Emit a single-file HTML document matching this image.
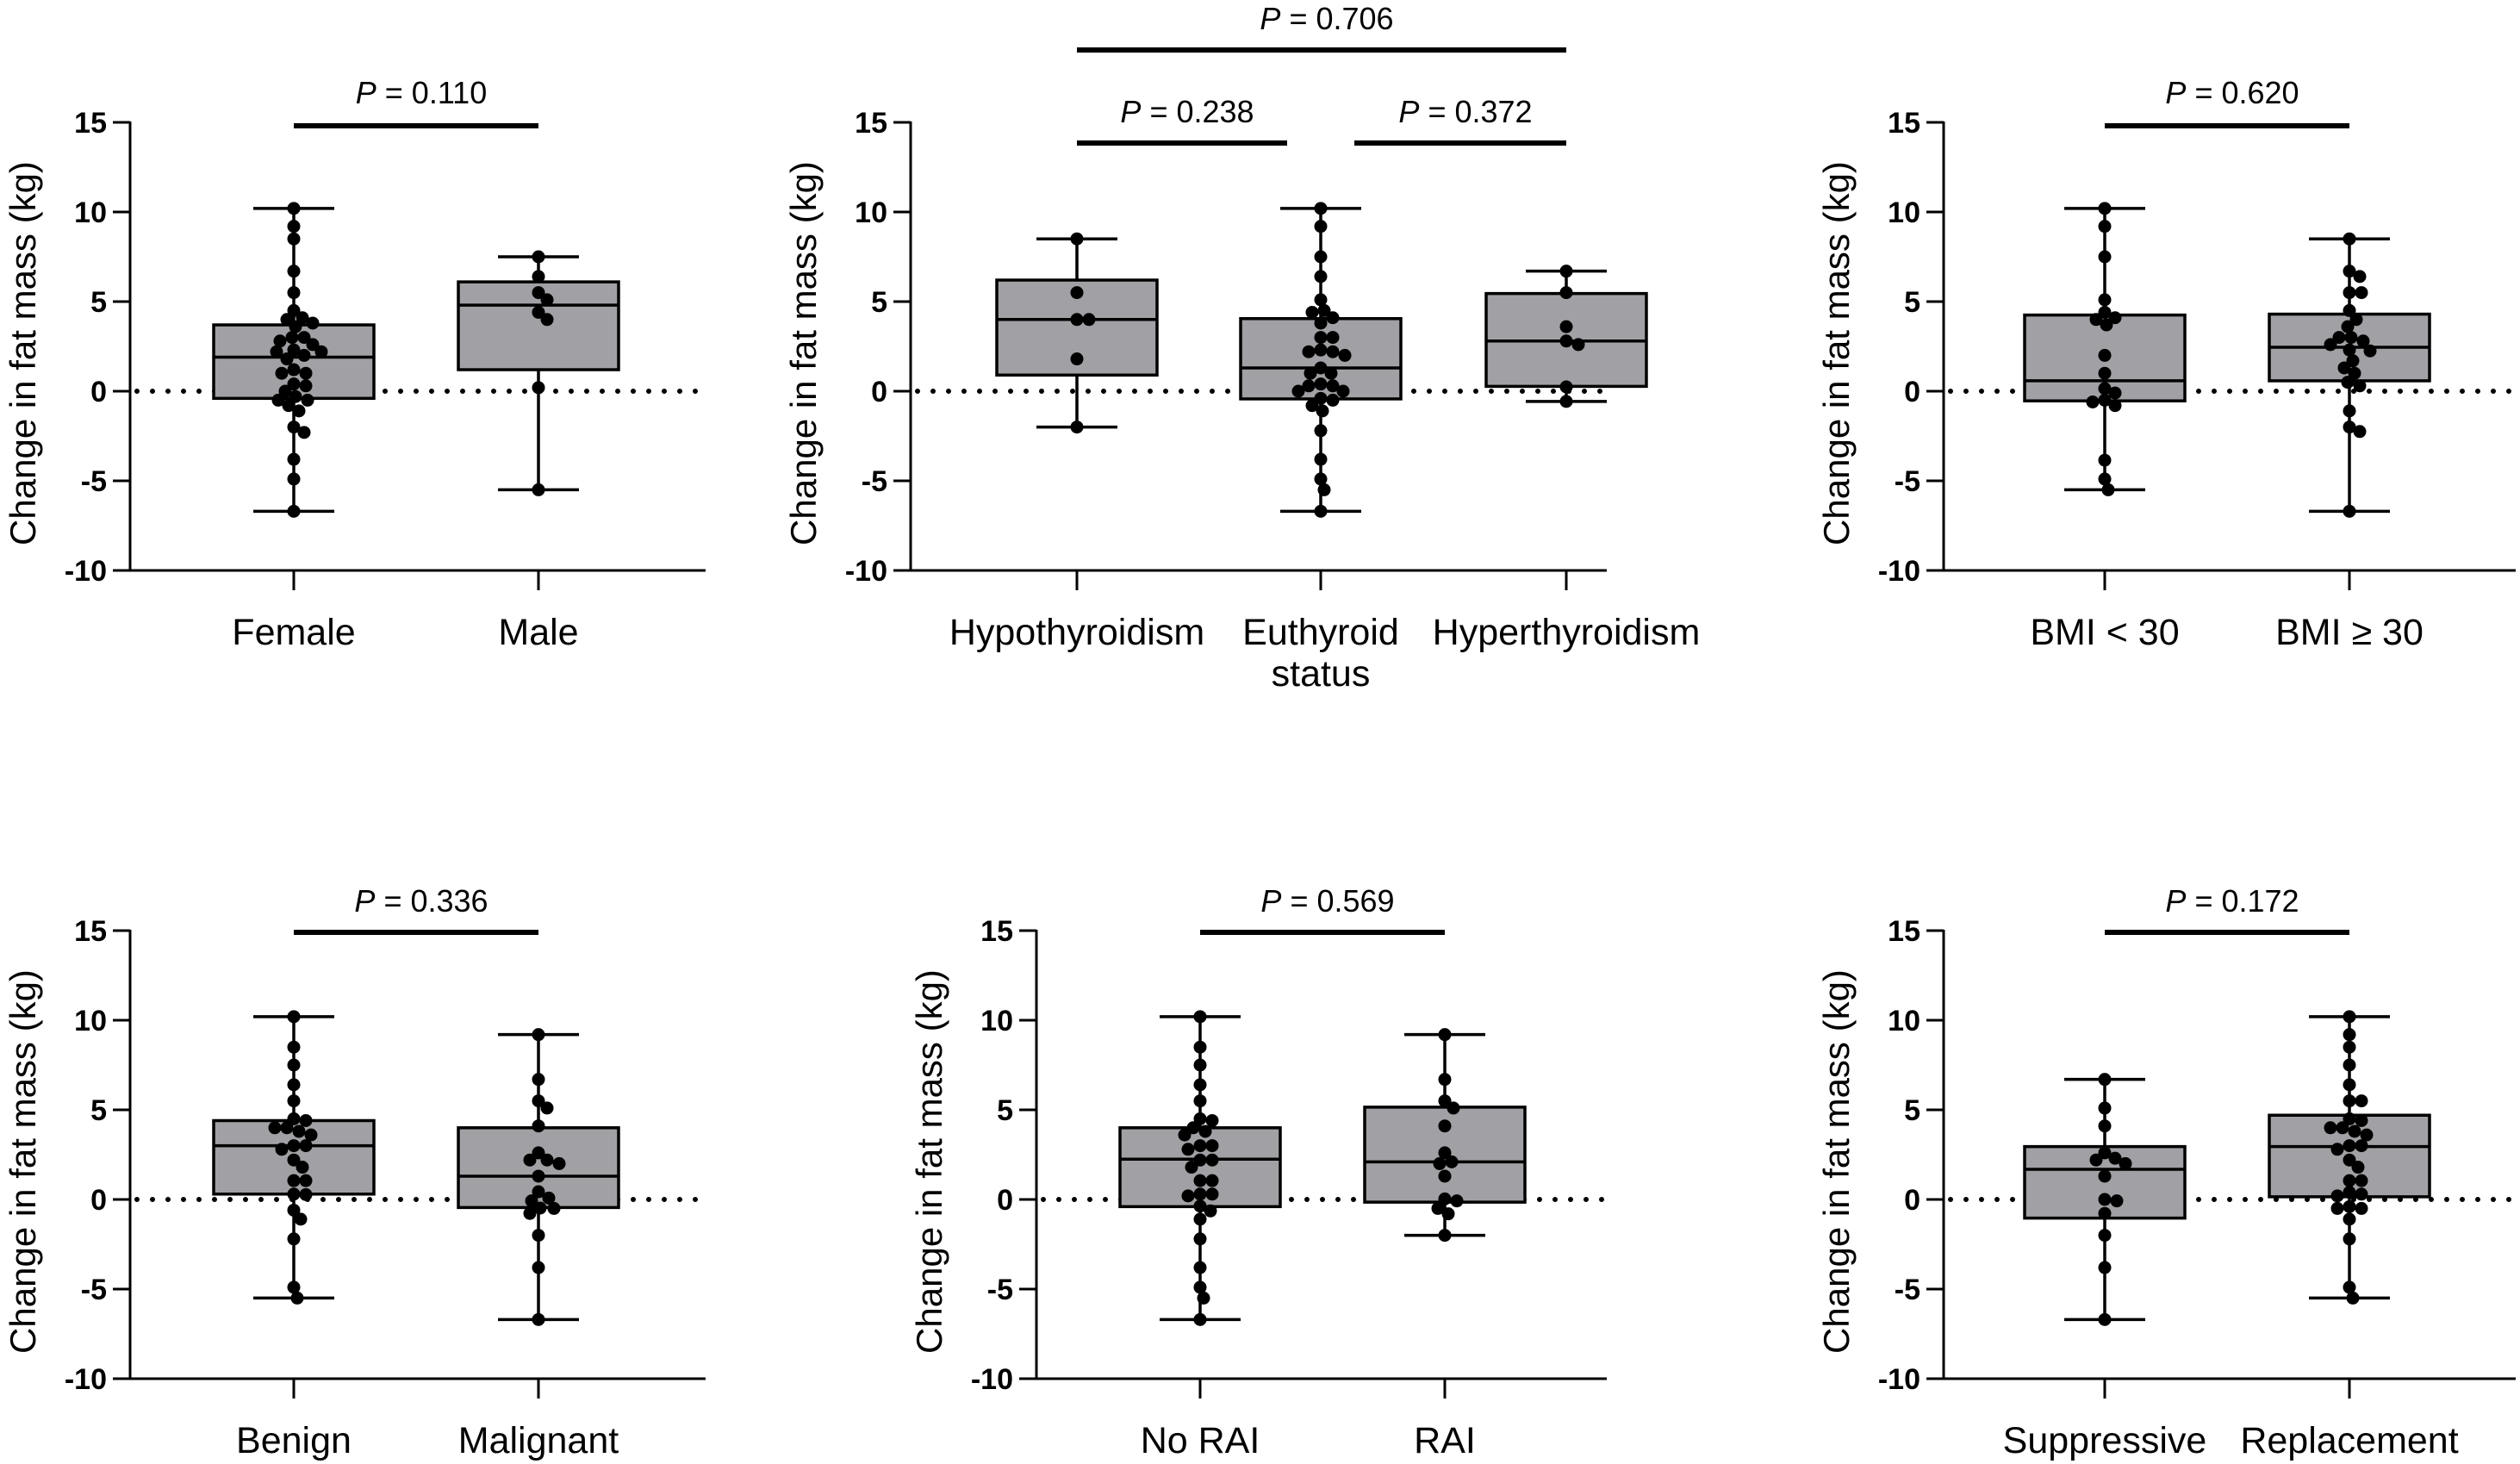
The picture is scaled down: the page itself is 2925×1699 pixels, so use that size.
<!DOCTYPE html>
<html><head><meta charset="utf-8"><style>
html,body{margin:0;padding:0;background:#fff;}
svg{display:block;font-family:"Liberation Sans",Arial,sans-serif;}
</style></head><body>
<svg id="fig" width="2925" height="1699" viewBox="0 0 2925 1699" xmlns="http://www.w3.org/2000/svg"></svg>
<script>
// ---- data (kg change in fat mass) ----
const femaleDots=[10.2,9.2,8.5,6.7,5.5,4.5,4.1,4.0,3.8,3.6,3.0,3.0,2.8,2.6,2.3,2.2,2.2,2.0,1.8,1.2,1.0,1.0,0.4,0.3,0.0,-0.3,-0.5,-0.5,-0.8,-1.1,-2.0,-2.3,-3.8,-4.9,-6.7];
const maleDots=[7.5,6.4,5.5,5.1,4.4,4.0,0.2,-5.5];
const hypoDots=[8.5,5.5,4.0,4.0,1.8,-2.0];
const euDots=[10.2,9.2,7.5,6.4,5.1,4.5,4.4,4.1,3.8,3.0,3.0,2.3,2.2,2.2,2.0,1.3,1.0,1.0,0.4,0.3,0.3,0.0,0.0,-0.4,-0.5,-0.8,-1.1,-2.2,-3.8,-4.9,-5.5,-6.7];
const hyperDots=[6.7,5.5,3.6,2.8,2.6,0.24,-0.57];
const bmiLowDots=[10.2,9.2,7.5,5.1,4.4,4.1,4.0,3.7,2.0,1.0,0.15,-0.1,-0.5,-0.6,-0.8,-3.85,-4.9,-5.5];
const bmiHighDots=[8.5,6.7,6.4,5.5,5.5,4.5,4.0,3.6,3.0,3.0,2.8,2.6,2.3,2.25,1.7,1.3,1.0,0.5,0.3,-1.1,-2.0,-2.25,-6.7];
const benignDots=[10.2,8.5,7.5,6.4,5.5,4.5,4.4,4.0,4.0,3.8,3.6,3.0,3.0,2.8,2.2,1.8,1.05,1.05,0.3,0.27,-0.6,-1.1,-2.2,-4.9,-5.5];
const malignantDots=[9.2,6.7,5.5,5.1,4.1,2.6,2.2,2.2,2.0,1.3,0.43,0.08,-0.08,-0.48,-0.5,-0.78,-2.0,-3.8,-6.7];
const noRaiDots=[10.2,8.5,7.5,6.4,5.5,4.5,4.4,4.0,3.8,3.6,3.0,3.0,2.8,2.2,2.2,1.8,1.05,1.05,0.3,0.3,0.2,-0.37,-0.64,-1.1,-2.2,-3.8,-4.9,-5.5,-6.7];
const raiDots=[9.2,6.7,5.5,5.1,4.1,2.6,2.1,2.0,1.3,0.03,-0.08,-0.5,-0.8,-2.0];
const suppDots=[6.7,5.1,4.1,2.6,2.3,2.2,2.0,1.3,0.0,-0.08,-0.78,-2.0,-3.8,-6.7];
const replDots=[10.2,9.2,8.5,7.5,6.4,5.5,5.5,4.5,4.4,4.0,4.0,3.8,3.6,3.0,3.0,2.8,2.2,1.8,1.05,1.05,0.4,0.3,0.2,-0.5,-0.5,-0.4,-1.1,-2.2,-4.9,-5.5];
// box stats: [min, q1, median, q3, max]
const femaleBox=[-6.7,-0.4,1.9,3.7,10.2];
const maleBox=[-5.5,1.2,4.8,6.1,7.5];
const hypoBox=[-2.0,0.9,4.0,6.2,8.5];
const euBox=[-6.7,-0.43,1.3,4.05,10.2];
const hyperBox=[-0.57,0.27,2.8,5.45,6.7];
const bmiLowBox=[-5.5,-0.54,0.58,4.25,10.2];
const bmiHighBox=[-6.7,0.58,2.45,4.3,8.5];
const benignBox=[-5.5,0.3,3.0,4.4,10.2];
const malignantBox=[-6.7,-0.45,1.3,4.0,9.2];
const noRaiBox=[-6.7,-0.4,2.25,4.0,10.2];
const raiBox=[-2.0,-0.15,2.1,5.15,9.2];
const suppBox=[-6.7,-1.04,1.68,2.95,6.7];
const replBox=[-5.5,0.15,2.95,4.7,10.2];
const yTicks=[15,10,5,0,-5,-10];

const NS="http://www.w3.org/2000/svg";
const svg=document.getElementById('fig');
function el(tag,attrs,parent,text){const e=document.createElementNS(NS,tag);for(const k in attrs)e.setAttribute(k,attrs[k]);if(text!==undefined)e.textContent=text;(parent||svg).appendChild(e);return e;}

const panels=[
 {name:'sex',ax:151,xEnd:819,top:142,bot:662,cats:[341,625],labels:[['Female'],['Male']],data:[femaleDots,maleDots],box:[femaleBox,maleBox],
  p:[{a:0,b:1,y:146,ty:120,t:'0.110'}]},
 {name:'thyroid',ax:1057,xEnd:1865,top:142,bot:662,cats:[1250,1533,1818],labels:[['Hypothyroidism'],['Euthyroid','status'],['Hyperthyroidism']],data:[hypoDots,euDots,hyperDots],box:[hypoBox,euBox,hyperBox],
  p:[{x1:1250,x2:1494,y:166,ty:142,t:'0.238'},{x1:1572,x2:1818,y:166,ty:142,t:'0.372'},{x1:1250,x2:1818,y:58,ty:34,t:'0.706'}]},
 {name:'bmi',ax:2256,xEnd:2920,top:142,bot:662,cats:[2443,2727],labels:[['BMI < 30'],['BMI ≥ 30']],data:[bmiLowDots,bmiHighDots],box:[bmiLowBox,bmiHighBox],
  p:[{a:0,b:1,y:146,ty:120,t:'0.620'}]},
 {name:'histology',ax:151,xEnd:819,top:1080,bot:1600,cats:[341,625],labels:[['Benign'],['Malignant']],data:[benignDots,malignantDots],box:[benignBox,malignantBox],
  p:[{a:0,b:1,y:1082,ty:1058,t:'0.336'}]},
 {name:'rai',ax:1203,xEnd:1865,top:1080,bot:1600,cats:[1393,1677],labels:[['No RAI'],['RAI']],data:[noRaiDots,raiDots],box:[noRaiBox,raiBox],
  p:[{a:0,b:1,y:1082,ty:1058,t:'0.569'}]},
 {name:'therapy',ax:2256,xEnd:2920,top:1080,bot:1600,cats:[2443,2727],labels:[['Suppressive'],['Replacement']],data:[suppDots,replDots],box:[suppBox,replBox],
  p:[{a:0,b:1,y:1082,ty:1058,t:'0.172'}]}
];

panels.forEach(P=>{
  const g=el('g',{});
  
  
  const y=v=>P.top+(15-v)*(P.bot-P.top)/25;
  const zl=el('line',{x1:P.ax+8,x2:P.xEnd,y1:y(0),y2:y(0),stroke:'#000','stroke-width':6,'stroke-dasharray':'0 18','stroke-linecap':'round'},g);
  
  
  P.cats.forEach((cx,i)=>{
    const b=P.box[i];
    const bg=el('g',{},g);
    
    
    el('line',{x1:cx,x2:cx,y1:y(b[4]),y2:y(b[0]),stroke:'#000','stroke-width':3.5},bg);
    el('line',{x1:cx-47,x2:cx+47,y1:y(b[4]),y2:y(b[4]),stroke:'#000','stroke-width':3.5},bg);
    el('line',{x1:cx-47,x2:cx+47,y1:y(b[0]),y2:y(b[0]),stroke:'#000','stroke-width':3.5},bg);
    el('rect',{x:cx-93,y:y(b[3]),width:186,height:y(b[1])-y(b[3]),fill:'#a1a1a5',stroke:'#000','stroke-width':3.5},bg);
    el('line',{x1:cx-93,x2:cx+93,y1:y(b[2]),y2:y(b[2]),stroke:'#000','stroke-width':3.5},bg);
    const r=7.5, placed=[];
    const vals=P.data[i].slice().sort((a,c)=>c-a);
    vals.forEach(v=>{
      const yy=y(v);let off=0;
      for(let k=0;k<200;k++){
        const cand=k===0?0:(k%2?1:-1)*Math.ceil(k/2)*2;
        if(placed.every(p=>Math.hypot(p[0]-cand,p[1]-yy)>=2*r-2)){off=cand;break;}
      }
      placed.push([off,yy]);
      const c=el('circle',{cx:cx+off,cy:yy,r:r,fill:'#000'},bg);
      
      
    });
  });
  const ya=el('line',{x1:P.ax,x2:P.ax,y1:P.top-1,y2:P.bot+1.5,stroke:'#000','stroke-width':3},g);
  
  
  const xa=el('line',{x1:P.ax-20,x2:P.xEnd,y1:P.bot,y2:P.bot,stroke:'#000','stroke-width':3},g);
  
  
  yTicks.forEach(t=>{
    el('line',{x1:P.ax-20,x2:P.ax,y1:y(t),y2:y(t),stroke:'#000','stroke-width':3},g);
    const tl=el('text',{x:P.ax-27,y:y(t)+12,'text-anchor':'end','font-size':34,'font-weight':'bold'},g,String(t));
    
    
  });
  const ymid=(P.top+P.bot)/2+8;
  const tt=el('text',{x:0,y:0,'text-anchor':'middle','font-size':42,transform:`translate(${P.ax-110},${ymid}) rotate(-90)`},g,'Change in fat mass (kg)');
  
  
  P.cats.forEach((cx,i)=>{
    el('line',{x1:cx,x2:cx,y1:P.bot,y2:P.bot+23,stroke:'#000','stroke-width':3},g);
    P.labels[i].forEach((ln,j)=>{
      const cl=el('text',{x:cx,y:P.bot+86+j*48,'text-anchor':'middle','font-size':43},g,ln);
      
      
    });
  });
  P.p.forEach(pp=>{
    const x1=pp.x1!==undefined?pp.x1:P.cats[pp.a], x2=pp.x2!==undefined?pp.x2:P.cats[pp.b];
    const bl=el('line',{x1:x1,x2:x2,y1:pp.y,y2:pp.y,stroke:'#000','stroke-width':6},g);
    
    
    const tx=el('text',{x:(x1+x2)/2+6,y:pp.ty,'text-anchor':'middle','font-size':36},g);
    
    
    tx.setAttribute('xml:space','preserve');
    el('tspan',{'font-style':'italic'},tx,'P');
    el('tspan',{},tx,'  = '+pp.t);
  });
});
</script>
</body></html>
